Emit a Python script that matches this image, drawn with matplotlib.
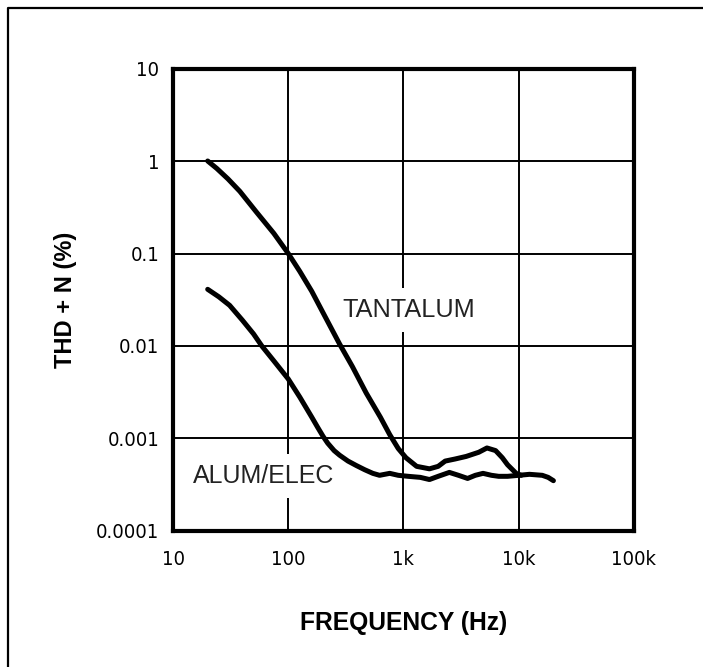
"""THD+N versus frequency for tantalum and aluminium electrolytic coupling caps."""

import matplotlib

matplotlib.use("Agg")

import matplotlib.pyplot as plt
from matplotlib import font_manager
from matplotlib.font_manager import FontProperties
from matplotlib.lines import Line2D
from matplotlib.ticker import FixedLocator, NullLocator

# values
tantalum_freq = [20, 24, 30, 38, 53, 75, 100, 126, 160, 200, 279, 360, 475,
                 630, 760, 900, 1050, 1300, 1680, 2000, 2300, 2800, 3500,
                 4500, 5300, 6300, 7200, 8000, 9500, 10500]
tantalum_thd = [1.0, 0.83, 0.64, 0.47, 0.28, 0.165, 0.1, 0.064, 0.039, 0.023,
                0.0105, 0.006, 0.0031, 0.0017, 0.0011, 0.00078, 0.00062,
                0.0005, 0.00047, 0.0005, 0.00057, 0.0006, 0.00064, 0.00071,
                0.00079, 0.00074, 0.00062, 0.00052, 0.00042, 0.0004]

alum_freq = [20, 25, 31, 40, 50, 59, 75, 100, 126, 160, 180, 200, 220, 250,
             279, 330, 390, 460, 542, 620, 760, 900, 1100, 1400, 1680, 2000,
             2500, 3000, 3600, 4200, 4900, 5800, 6700, 8000, 10000, 12400,
             16000, 18000, 20000]
alum_thd = [0.041, 0.034, 0.0275, 0.019, 0.0135, 0.01, 0.0069, 0.0044, 0.0028,
            0.0017, 0.00132, 0.00106, 0.00089, 0.00074, 0.00066, 0.00057,
            0.00051, 0.00046, 0.00042, 0.0004, 0.00042, 0.0004, 0.00039,
            0.00038, 0.00036, 0.00039, 0.00043, 0.0004, 0.00037, 0.0004,
            0.00042, 0.0004, 0.00039, 0.00039, 0.0004, 0.00041, 0.0004,
            0.00038, 0.00035]

x_ticks = [10, 100, 1000, 10000, 100000]
x_tick_labels = ["10", "100", "1k", "10k", "100k"]
y_ticks = [0.0001, 0.001, 0.01, 0.1, 1, 10]
y_tick_labels = ["0.0001", "0.001", "0.01", "0.1", "1", "10"]


def pick_family(*names):
    installed = {f.name for f in font_manager.fontManager.ttflist}
    for name in names:
        if name in installed:
            return name
    return "DejaVu Sans"


def narrow_tick_font():
    """Return (FontProperties, size) for a condensed face if one is installed."""
    entries = font_manager.fontManager.ttflist
    for entry in entries:
        if entry.name in ("Liberation Sans Narrow", "Arial Narrow") and \
                entry.style == "normal" and entry.weight in (400, "normal", "regular"):
            return FontProperties(fname=entry.fname), 16.5
    for entry in entries:
        if entry.name == "DejaVu Sans" and entry.stretch == "condensed" and \
                entry.style == "normal" and entry.weight in (400, "normal", "regular"):
            return FontProperties(fname=entry.fname), 14.5
    return FontProperties(family=label_font), 14.5


label_font = pick_family("Liberation Sans", "Arial", "DejaVu Sans")
tick_props, tick_size = narrow_tick_font()
tick_props.set_size(tick_size)

fig = plt.figure(figsize=(7.03, 6.67), dpi=100)
ax = fig.add_axes([0.2461, 0.2039, 0.6557, 0.6934])

ax.plot(tantalum_freq, tantalum_thd, color="black", lw=3.6,
        solid_joinstyle="round", solid_capstyle="round", zorder=3)
ax.plot(alum_freq, alum_thd, color="black", lw=3.6,
        solid_joinstyle="round", solid_capstyle="round", zorder=3)

ax.set_xscale("log")
ax.set_yscale("log")
ax.set_xlim(10, 100000)
ax.set_ylim(0.0001, 10)

ax.xaxis.set_major_locator(FixedLocator(x_ticks))
ax.yaxis.set_major_locator(FixedLocator(y_ticks))
ax.xaxis.set_minor_locator(NullLocator())
ax.yaxis.set_minor_locator(NullLocator())
ax.set_xticklabels(x_tick_labels, fontproperties=tick_props)
ax.set_yticklabels(y_tick_labels, fontproperties=tick_props)
ax.tick_params(length=0, colors="black")
ax.tick_params(axis="y", pad=10)
ax.tick_params(axis="x", pad=14)

ax.set_axisbelow(True)
ax.grid(True, color="black", lw=1.4)
for spine in ax.spines.values():
    spine.set_linewidth(3.0)

ax.set_xlabel("FREQUENCY (Hz)", family=label_font, fontweight="bold",
              fontsize=17.7, labelpad=30)
ax.set_ylabel("THD + N (%)", family=label_font, fontweight="bold",
              fontsize=17, labelpad=13.5)

box = dict(facecolor="white", edgecolor="none", pad=7)
ax.text(1105, 0.0245, "TANTALUM", family=label_font, fontsize=18.2,
        color="#222222", ha="center", va="center", bbox=box, zorder=2)
ax.text(61, 0.000394, "ALUM/ELEC", family=label_font, fontsize=18,
        color="#222222", ha="center", va="center", bbox=box, zorder=2)

# frame around the figure (only top and left survive in the crop)
fig.add_artist(Line2D([0.0114, 0.0114, 1.0], [0.0, 0.988, 0.988],
                      transform=fig.transFigure, color="black", lw=1.6))

fig.savefig("out.png", dpi=100)
plt.close(fig)
